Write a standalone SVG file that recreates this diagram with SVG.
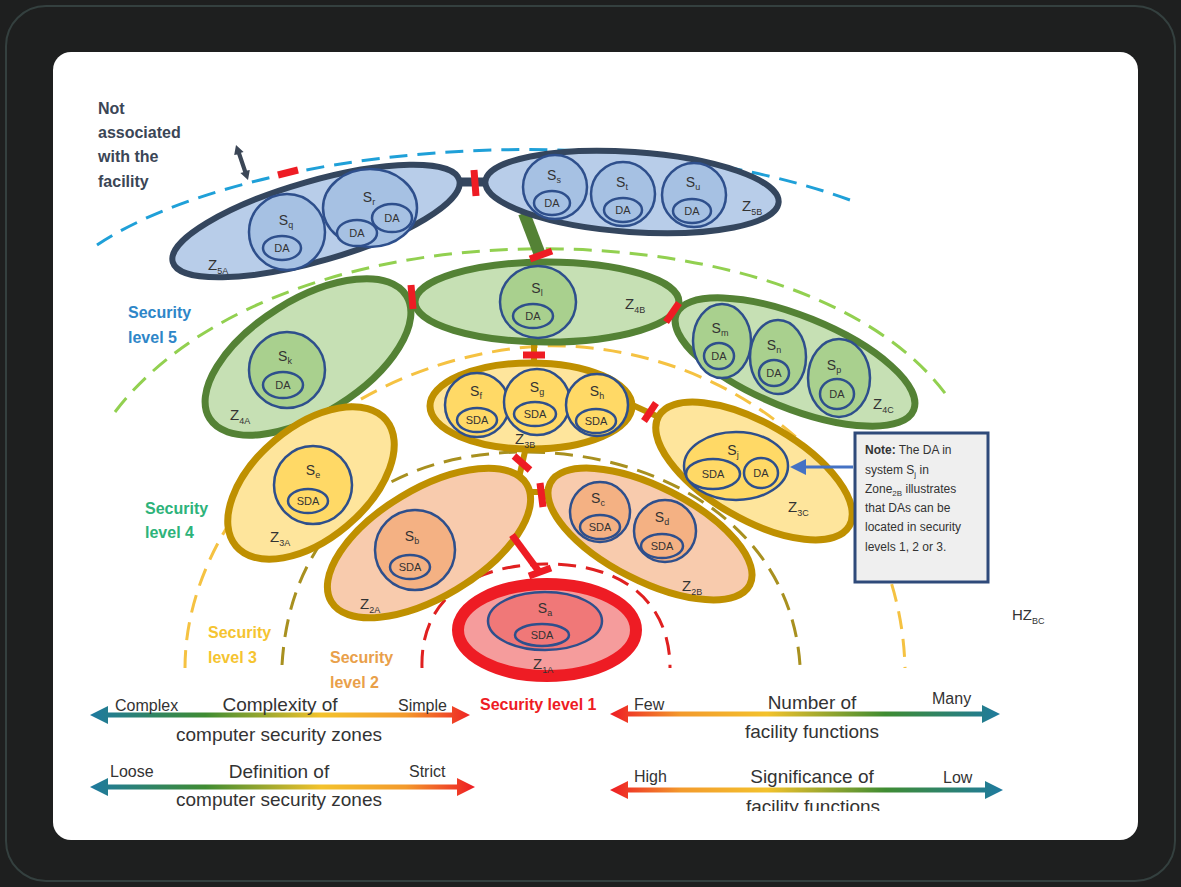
<svg xmlns="http://www.w3.org/2000/svg" width="1181" height="887" viewBox="0 0 1181 887">
<defs>
<style>
.t{font-family:"Liberation Sans",Arial,sans-serif;fill:#333}
.sl{font-size:14px}
.sub{font-size:9px}
.da{font-size:11px;text-anchor:middle}
.zl{font-size:15px}
.lvl{font-family:"Liberation Sans",Arial,sans-serif;font-weight:bold;font-size:16px}
.bt{font-family:"Liberation Sans",Arial,sans-serif;font-size:19px;fill:#333}
.bs{font-family:"Liberation Sans",Arial,sans-serif;font-size:16px;fill:#333}
.z5{fill:#b8cde9;stroke:#34465e;stroke-width:6}
.s5{fill:#a6c1e3;stroke:#2e4f8c;stroke-width:2.5}
.z4{fill:#c6e0b4;stroke:#548235;stroke-width:7}
.s4{fill:#a9d08e;stroke:#2e4f8c;stroke-width:2.5}
.z3{fill:#fee59c;stroke:#bf9000;stroke-width:7}
.s3{fill:#ffd966;stroke:#2e4f8c;stroke-width:2.5}
.z2{fill:#f8cbad;stroke:#bf9000;stroke-width:7}
.s2{fill:#f4b183;stroke:#2e4f8c;stroke-width:2.5}
.z1{fill:#f59c9c;stroke:#ee1c24;stroke-width:12}
.s1{fill:#f07878;stroke:#2e4f8c;stroke-width:2.5}
.rb{stroke:#ee1c24;stroke-width:7;fill:none}
.gl{stroke:#bf9000;stroke-width:6;fill:none}
.dash{fill:none;stroke-width:3;stroke-dasharray:18 10}
</style>
<linearGradient id="g1" gradientUnits="userSpaceOnUse" x1="90" y1="0" x2="475" y2="0">
<stop offset="0" stop-color="#1e7aa0"/><stop offset="0.3" stop-color="#3f8c32"/><stop offset="0.6" stop-color="#f3c22c"/><stop offset="0.82" stop-color="#f39a2c"/><stop offset="1" stop-color="#ee1c24"/>
</linearGradient>
<linearGradient id="g2" gradientUnits="userSpaceOnUse" x1="610" y1="0" x2="1003" y2="0">
<stop offset="0" stop-color="#ee1c24"/><stop offset="0.18" stop-color="#f39a2c"/><stop offset="0.4" stop-color="#f3c22c"/><stop offset="0.7" stop-color="#3f8c32"/><stop offset="1" stop-color="#1e7aa0"/>
</linearGradient>
<clipPath id="cut"><rect x="53" y="52" width="1085" height="759"/></clipPath>
</defs>

<rect x="0" y="0" width="1181" height="887" fill="#1e1f1f"/>
<rect x="6" y="6" width="1169" height="875" rx="40" fill="none" stroke="#34403f" stroke-width="2"/>
<rect x="53" y="52" width="1085" height="788" rx="18" fill="#ffffff"/>

<g id="boundaries">
<path class="dash" stroke="#1fa0d8" d="M97,245 C240,150 600,110 850,200"/>
<path class="dash" stroke="#92d050" d="M115,412 C200,300 380,245 560,249 C720,252 880,300 950,400"/>
<path class="dash" stroke="#f5c242" d="M185,668 C185,520 330,360 540,346 C720,340 900,470 905,668"/>
<path class="dash" stroke="#a8901f" d="M282,665 C290,530 380,455 520,452 C650,450 790,520 800,665"/>
<path class="dash" stroke="#e02020" d="M422,668 C420,600 470,565 545,564 C620,563 670,600 670,668"/>
</g>

<g id="labels">
<text class="t" font-weight="bold" font-size="16" style="fill:#3b4656"><tspan x="98" y="114">Not</tspan><tspan x="98" y="138">associated</tspan><tspan x="98" y="162">with the</tspan><tspan x="98" y="187">facility</tspan></text>
<path d="M236,145 L243.6,151.9 L241,152.8 L247,170.6 L249.8,169.9 L248,180 L240.4,173.1 L243.2,172.2 L237.2,154.4 L234.2,155.1 Z" fill="#3b4656"/>
<text class="lvl" fill="#2e86c8"><tspan x="128" y="318">Security</tspan><tspan x="128" y="343">level 5</tspan></text>
<text class="lvl" fill="#2db37a"><tspan x="145" y="514">Security</tspan><tspan x="145" y="538">level 4</tspan></text>
<text class="lvl" fill="#f5c431"><tspan x="208" y="638">Security</tspan><tspan x="208" y="663">level 3</tspan></text>
<text class="lvl" fill="#e9a04a"><tspan x="330" y="663">Security</tspan><tspan x="330" y="688">level 2</tspan></text>
<text class="lvl" fill="#ee1c24" x="480" y="710" font-size="17">Security level 1</text>
<text class="t" font-size="15" x="1012" y="620">HZ<tspan class="sub" dy="4">BC</tspan></text>
</g>

<g id="connectors">
<line x1="457" y1="182" x2="489" y2="182" stroke="#34465e" stroke-width="9"/>
<line x1="524" y1="213" x2="540" y2="255" stroke="#548235" stroke-width="12"/>
<line x1="402" y1="298" x2="420" y2="298" stroke="#548235" stroke-width="6"/>
<line x1="534" y1="342" x2="534" y2="365" class="gl"/>
<line x1="628" y1="403" x2="663" y2="419" class="gl"/>
<line x1="526" y1="447" x2="518" y2="482" class="gl"/>
<line x1="526" y1="492" x2="554" y2="492" class="gl"/>
</g>

<g id="Z5A">
<ellipse class="z5" cx="316" cy="221" rx="149" ry="40" transform="rotate(-16 316 221)"/>
<circle class="s5" cx="287" cy="232" r="38"/>
<text class="t sl" x="286" y="225" text-anchor="middle">S<tspan class="sub" dy="3">q</tspan></text>
<ellipse class="s5" cx="282" cy="248" rx="19" ry="12"/>
<text class="t da" x="282" y="252">DA</text>
<ellipse class="s5" cx="370" cy="208" rx="47" ry="39"/>
<text class="t sl" x="369" y="202" text-anchor="middle">S<tspan class="sub" dy="3">r</tspan></text>
<ellipse class="s5" cx="357" cy="233" rx="20" ry="13"/>
<text class="t da" x="357" y="237">DA</text>
<ellipse class="s5" cx="392" cy="218" rx="20" ry="14"/>
<text class="t da" x="392" y="222">DA</text>
<text class="t zl" x="208" y="270">Z<tspan class="sub" dy="4">5A</tspan></text>
</g>

<g id="Z5B">
<ellipse class="z5" cx="632" cy="192" rx="147" ry="40" transform="rotate(4 632 192)"/>
<circle class="s5" cx="555" cy="187" r="32"/>
<text class="t sl" x="554" y="180" text-anchor="middle">S<tspan class="sub" dy="3">s</tspan></text>
<ellipse class="s5" cx="552" cy="203" rx="18" ry="12"/>
<text class="t da" x="552" y="207">DA</text>
<circle class="s5" cx="623" cy="194" r="32"/>
<text class="t sl" x="622" y="187" text-anchor="middle">S<tspan class="sub" dy="3">t</tspan></text>
<ellipse class="s5" cx="623" cy="210" rx="19" ry="12"/>
<text class="t da" x="623" y="214">DA</text>
<circle class="s5" cx="694" cy="195" r="32"/>
<text class="t sl" x="693" y="187" text-anchor="middle">S<tspan class="sub" dy="3">u</tspan></text>
<ellipse class="s5" cx="692" cy="211" rx="19" ry="12"/>
<text class="t da" x="692" y="215">DA</text>
<text class="t zl" x="742" y="211">Z<tspan class="sub" dy="4">5B</tspan></text>
</g>

<g id="Z4A">
<ellipse class="z4" cx="308" cy="357" rx="116" ry="57" transform="rotate(-32 308 357)"/>
<circle class="s4" cx="287" cy="370" r="38"/>
<text class="t sl" x="285" y="361" text-anchor="middle">S<tspan class="sub" dy="3">k</tspan></text>
<ellipse class="s4" cx="283" cy="385" rx="20" ry="13"/>
<text class="t da" x="283" y="389">DA</text>
<text class="t zl" x="230" y="420">Z<tspan class="sub" dy="4">4A</tspan></text>
</g>

<g id="Z4B">
<ellipse class="z4" cx="547" cy="302" rx="132" ry="40"/>
<ellipse class="s4" cx="538" cy="302" rx="38" ry="36"/>
<text class="t sl" x="537" y="293" text-anchor="middle">S<tspan class="sub" dy="3">l</tspan></text>
<ellipse class="s4" cx="533" cy="316" rx="20" ry="12"/>
<text class="t da" x="533" y="320">DA</text>
<text class="t zl" x="625" y="309">Z<tspan class="sub" dy="4">4B</tspan></text>
</g>

<g id="Z4C">
<ellipse class="z4" cx="795" cy="362" rx="128" ry="46" transform="rotate(22 795 362)"/>
<ellipse class="s4" cx="722" cy="341" rx="29" ry="37"/>
<text class="t sl" x="720" y="333" text-anchor="middle">S<tspan class="sub" dy="3">m</tspan></text>
<ellipse class="s4" cx="719" cy="356" rx="15" ry="13"/>
<text class="t da" x="719" y="360">DA</text>
<ellipse class="s4" cx="778" cy="357" rx="28" ry="37"/>
<text class="t sl" x="774" y="350" text-anchor="middle">S<tspan class="sub" dy="3">n</tspan></text>
<ellipse class="s4" cx="774" cy="373" rx="15" ry="13"/>
<text class="t da" x="774" y="377">DA</text>
<ellipse class="s4" cx="839" cy="378" rx="31" ry="39"/>
<text class="t sl" x="834" y="370" text-anchor="middle">S<tspan class="sub" dy="3">p</tspan></text>
<ellipse class="s4" cx="837" cy="394" rx="17" ry="15"/>
<text class="t da" x="837" y="398">DA</text>
<text class="t zl" x="873" y="409">Z<tspan class="sub" dy="4">4C</tspan></text>
</g>

<g id="Z3A">
<ellipse class="z3" cx="311" cy="483" rx="98" ry="56" transform="rotate(-40 311 483)"/>
<circle class="s3" cx="313" cy="485" r="39"/>
<text class="t sl" x="313" y="475" text-anchor="middle">S<tspan class="sub" dy="3">e</tspan></text>
<ellipse class="s3" cx="308" cy="501" rx="20" ry="12"/>
<text class="t da" x="308" y="505">SDA</text>
<text class="t zl" x="270" y="542">Z<tspan class="sub" dy="4">3A</tspan></text>
</g>

<g id="Z3B">
<ellipse class="z3" cx="531" cy="406" rx="101" ry="43"/>
<circle class="s3" cx="477" cy="405" r="32"/>
<text class="t sl" x="476" y="396" text-anchor="middle">S<tspan class="sub" dy="3">f</tspan></text>
<ellipse class="s3" cx="477" cy="420" rx="20" ry="12"/>
<text class="t da" x="477" y="424">SDA</text>
<circle class="s3" cx="537" cy="402" r="33"/>
<text class="t sl" x="537" y="392" text-anchor="middle">S<tspan class="sub" dy="3">g</tspan></text>
<ellipse class="s3" cx="535" cy="414" rx="21" ry="12"/>
<text class="t da" x="535" y="418">SDA</text>
<circle class="s3" cx="597" cy="405" r="31"/>
<text class="t sl" x="597" y="396" text-anchor="middle">S<tspan class="sub" dy="3">h</tspan></text>
<ellipse class="s3" cx="596" cy="421" rx="20" ry="12"/>
<text class="t da" x="596" y="425">SDA</text>
<text class="t zl" x="515" y="444">Z<tspan class="sub" dy="4">3B</tspan></text>
</g>

<g id="Z3C">
<ellipse class="z3" cx="754" cy="471" rx="110" ry="48" transform="rotate(30 754 471)"/>
<ellipse class="s3" cx="736" cy="466" rx="52" ry="34"/>
<text class="t sl" x="733" y="455" text-anchor="middle">S<tspan class="sub" dy="3">j</tspan></text>
<ellipse class="s3" cx="713" cy="474" rx="27" ry="15"/>
<text class="t da" x="713" y="478">SDA</text>
<ellipse class="s3" cx="761" cy="473" rx="17" ry="15"/>
<text class="t da" x="761" y="477">DA</text>
<text class="t zl" x="788" y="512">Z<tspan class="sub" dy="4">3C</tspan></text>
</g>

<g id="Z2A">
<ellipse class="z2" cx="429" cy="543" rx="114" ry="54" transform="rotate(-31 429 543)"/>
<circle class="s2" cx="415" cy="550" r="40"/>
<text class="t sl" x="412" y="541" text-anchor="middle">S<tspan class="sub" dy="3">b</tspan></text>
<ellipse class="s2" cx="410" cy="567" rx="20" ry="12"/>
<text class="t da" x="410" y="571">SDA</text>
<text class="t zl" x="360" y="609">Z<tspan class="sub" dy="4">2A</tspan></text>
</g>

<g id="Z2B">
<ellipse class="z2" cx="650" cy="534" rx="112" ry="47" transform="rotate(27 650 534)"/>
<circle class="s2" cx="600" cy="512" r="30"/>
<text class="t sl" x="598" y="503" text-anchor="middle">S<tspan class="sub" dy="3">c</tspan></text>
<ellipse class="s2" cx="600" cy="527" rx="20" ry="12"/>
<text class="t da" x="600" y="531">SDA</text>
<circle class="s2" cx="665" cy="531" r="31"/>
<text class="t sl" x="662" y="522" text-anchor="middle">S<tspan class="sub" dy="3">d</tspan></text>
<ellipse class="s2" cx="662" cy="546" rx="21" ry="12"/>
<text class="t da" x="662" y="550">SDA</text>
<text class="t zl" x="682" y="591">Z<tspan class="sub" dy="4">2B</tspan></text>
</g>

<g id="Z1A">
<ellipse class="z1" cx="547" cy="630" rx="89" ry="46"/>
<ellipse class="s1" cx="545" cy="621" rx="57" ry="29"/>
<text class="t sl" x="545" y="613" text-anchor="middle">S<tspan class="sub" dy="3">a</tspan></text>
<ellipse class="s1" cx="542" cy="635" rx="27" ry="11"/>
<text class="t da" x="542" y="639">SDA</text>
<text class="t zl" x="533" y="669">Z<tspan class="sub" dy="4">1A</tspan></text>
</g>

<g id="barriers">
<line class="rb" x1="278" y1="175" x2="298" y2="170" stroke-width="6"/>
<line class="rb" x1="474" y1="170" x2="476" y2="196"/>
<line class="rb" x1="530" y1="259" x2="552" y2="251"/>
<line class="rb" x1="411" y1="285" x2="413" y2="309" stroke-width="9"/>
<line class="rb" x1="666" y1="322" x2="679" y2="303"/>
<line class="rb" x1="523" y1="355" x2="545" y2="355"/>
<line class="rb" x1="644" y1="421" x2="656" y2="403"/>
<line class="rb" x1="514" y1="456" x2="530" y2="470"/>
<line class="rb" x1="540" y1="483" x2="543" y2="507" stroke-width="8"/>
<line class="rb" x1="512" y1="535" x2="540" y2="573" stroke-width="8"/>
<line class="rb" x1="529" y1="576" x2="551" y2="568" stroke-width="8"/>
</g>

<g id="note">
<rect x="855" y="433" width="133" height="149" fill="#efefef" stroke="#2f4a7a" stroke-width="3"/>
<text class="t" font-size="12"><tspan x="865" y="454" font-weight="bold">Note:</tspan><tspan> The DA in</tspan><tspan x="865" y="474">system S</tspan><tspan font-size="8" dy="3">j</tspan><tspan dy="-3"> in</tspan><tspan x="865" y="493">Zone</tspan><tspan font-size="8" dy="3">2B</tspan><tspan dy="-3"> illustrates</tspan><tspan x="865" y="512">that DAs can be</tspan><tspan x="865" y="531">located in security</tspan><tspan x="865" y="551">levels 1, 2 or 3.</tspan></text>
<line x1="853" y1="467" x2="804" y2="467" stroke="#4472c4" stroke-width="3"/>
<polygon points="790,467 806,459 806,475" fill="#4472c4"/>
</g>

<g id="scales">
<polygon fill="url(#g1)" points="90,715 108,706 108,712.5 452,712.5 452,706 470,715 452,724 452,717.5 108,717.5 108,724"/>
<polygon fill="url(#g1)" points="90,787 108,778 108,784.5 457,784.5 457,778 475,787 457,796 457,789.5 108,789.5 108,796"/>
<polygon fill="url(#g2)" points="610,714 628,705 628,711.5 982,711.5 982,705 1000,714 982,723 982,716.5 628,716.5 628,723"/>
<polygon fill="url(#g2)" points="610,790 628,781 628,787.5 985,787.5 985,781 1003,790 985,799 985,792.5 628,792.5 628,799"/>
<text class="bs" x="115" y="711">Complex</text>
<text class="bt" x="280" y="711" text-anchor="middle">Complexity of</text>
<text class="bs" x="398" y="711">Simple</text>
<text class="bt" x="279" y="741" text-anchor="middle">computer security zones</text>
<text class="bs" x="110" y="777">Loose</text>
<text class="bt" x="279" y="778" text-anchor="middle">Definition of</text>
<text class="bs" x="409" y="777">Strict</text>
<text class="bt" x="279" y="806" text-anchor="middle">computer security zones</text>
<text class="bs" x="634" y="710">Few</text>
<text class="bt" x="812" y="709" text-anchor="middle">Number of</text>
<text class="bs" x="932" y="704">Many</text>
<text class="bt" x="812" y="738" text-anchor="middle">facility functions</text>
<text class="bs" x="634" y="782">High</text>
<text class="bt" x="812" y="783" text-anchor="middle">Significance of</text>
<text class="bs" x="943" y="783">Low</text>
<text class="bt" x="813" y="813" text-anchor="middle" clip-path="url(#cut)">facility functions</text>
</g>
</svg>
